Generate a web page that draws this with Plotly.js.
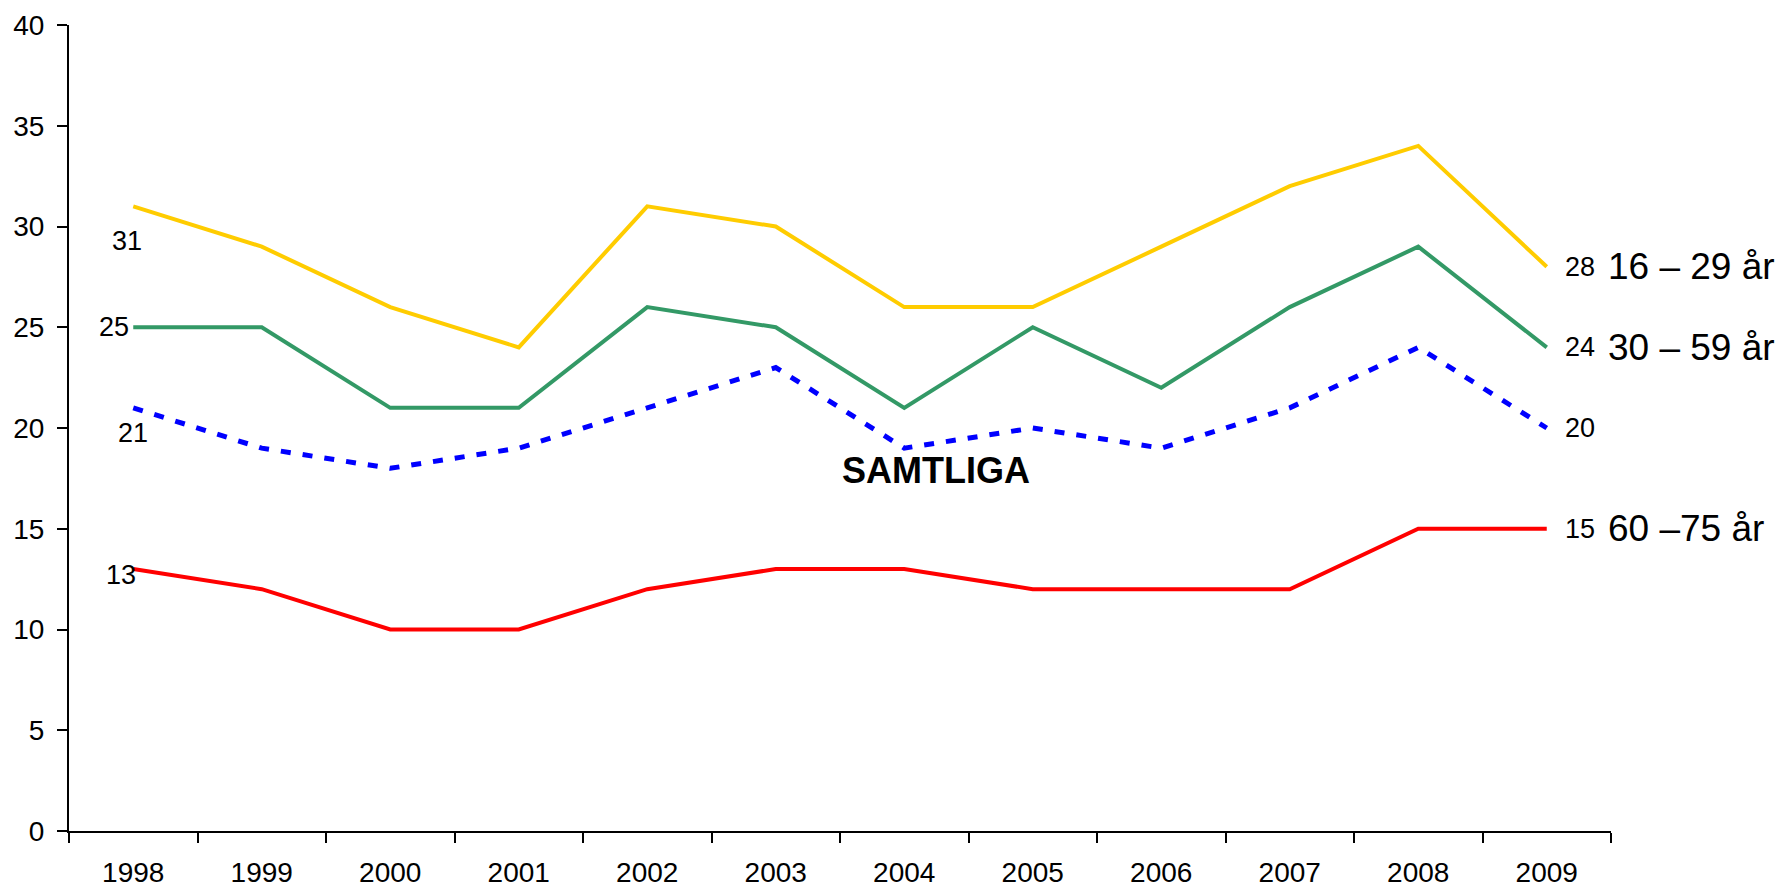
<!DOCTYPE html>
<html>
<head>
<meta charset="utf-8">
<script src="https://cdn.plot.ly/plotly-3.0.1.min.js"></script>
<style>
html,body{margin:0;padding:0;background:#fff;}
#chart{width:1783px;height:889px;}
</style>
</head>
<body>
<div id="chart"></div>
<script>
const years = ["1998","1999","2000","2001","2002","2003","2004","2005","2006","2007","2008","2009"];
const seriesNames = ["16 – 29 år","30 – 59 år","SAMTLIGA","60 –75 år"];
const v16_29 = [31,29,26,24,31,30,26,26,29,32,34,28];
const v30_59 = [25,25,21,21,26,25,21,25,22,26,29,24];
const vSamtliga = [21,19,18,19,21,23,19,20,19,21,24,20];
const v60_75 = [13,12,10,10,12,13,13,12,12,12,15,15];
const yTicks = [0,5,10,15,20,25,30,35,40];

const FONT = "Liberation Sans, Arial, sans-serif";

function line(y, color, dash, width, name){
  return {x: years, y: y, type: "scatter", mode: "lines", name: name,
    line: {color: color, width: width, dash: dash}, hoverinfo: "skip", cliponaxis: false};
}
const traces = [
  line(v16_29, "#FFCC00", "solid", 4, seriesNames[0]),
  line(v30_59, "#339966", "solid", 4, seriesNames[1]),
  line(vSamtliga, "#0000FF", "10px,12px", 5, seriesNames[2]),
  line(v60_75, "#FF0000", "solid", 4, seriesNames[3])
];

const all = [v16_29, v30_59, vSamtliga, v60_75];
const firstShift = [
  {xanchor:"center", xshift:-6, yshift:-35},
  {xanchor:"right", xshift:-2, yshift:0},
  {xanchor:"center", xshift:0, yshift:-25},
  {xanchor:"right", xshift:5, yshift:-6}
];
const ann = [];
all.forEach((s, i) => {
  const f = firstShift[i];
  ann.push({x: 0, y: s[0], xref: "x", yref: "y", text: String(s[0]), showarrow: false,
    xanchor: f.xanchor, yanchor: "middle", xshift: f.xshift, yshift: f.yshift,
    font: {family: FONT, size: 27, color: "#000"}});
  const last = s.length - 1;
  ann.push({x: last, y: s[last], xref: "x", yref: "y", text: String(s[last]), showarrow: false,
    xanchor: "left", yanchor: "middle", xshift: 16, yshift: 0,
    font: {family: FONT, size: 27, color: "#000"}});
  if (i !== 2) {
    ann.push({x: last, y: s[last], xref: "x", yref: "y", text: seriesNames[i], showarrow: false,
      xanchor: "left", yanchor: "middle", xshift: 59, yshift: 0,
      font: {family: FONT, size: 37, color: "#000"}});
  }
});
ann.push({x: 6.25, y: 17.9, xref: "x", yref: "y", text: "<b>" + seriesNames[2] + "</b>", showarrow: false,
  xanchor: "center", yanchor: "middle", font: {family: FONT, size: 36, color: "#000"}});

const layout = {
  width: 1783, height: 889,
  margin: {l: 69, r: 172, t: 25, b: 58, pad: 0},
  paper_bgcolor: "#fff", plot_bgcolor: "#fff",
  showlegend: false,
  font: {family: FONT, color: "#000"},
  xaxis: {type: "category", range: [-0.5, 11.5], showgrid: false, zeroline: false,
    showline: true, linecolor: "#000", linewidth: 2,
    ticks: "outside", tickson: "boundaries", ticklen: 10, tickwidth: 2, tickcolor: "#000",
    tickfont: {family: FONT, size: 28, color: "#000"}, ticklabelstandoff: 15,
    fixedrange: true},
  yaxis: {range: [0, 40], tickvals: yTicks, ticktext: yTicks.map(String), showgrid: false, zeroline: false,
    showline: true, linecolor: "#000", linewidth: 2,
    ticks: "outside", ticklen: 10, tickwidth: 2, tickcolor: "#000",
    tickfont: {family: FONT, size: 28, color: "#000"}, ticklabelstandoff: 7,
    fixedrange: true},
  annotations: ann
};
Plotly.newPlot("chart", traces, layout, {displayModeBar: false, staticPlot: true});
</script>
</body>
</html>
